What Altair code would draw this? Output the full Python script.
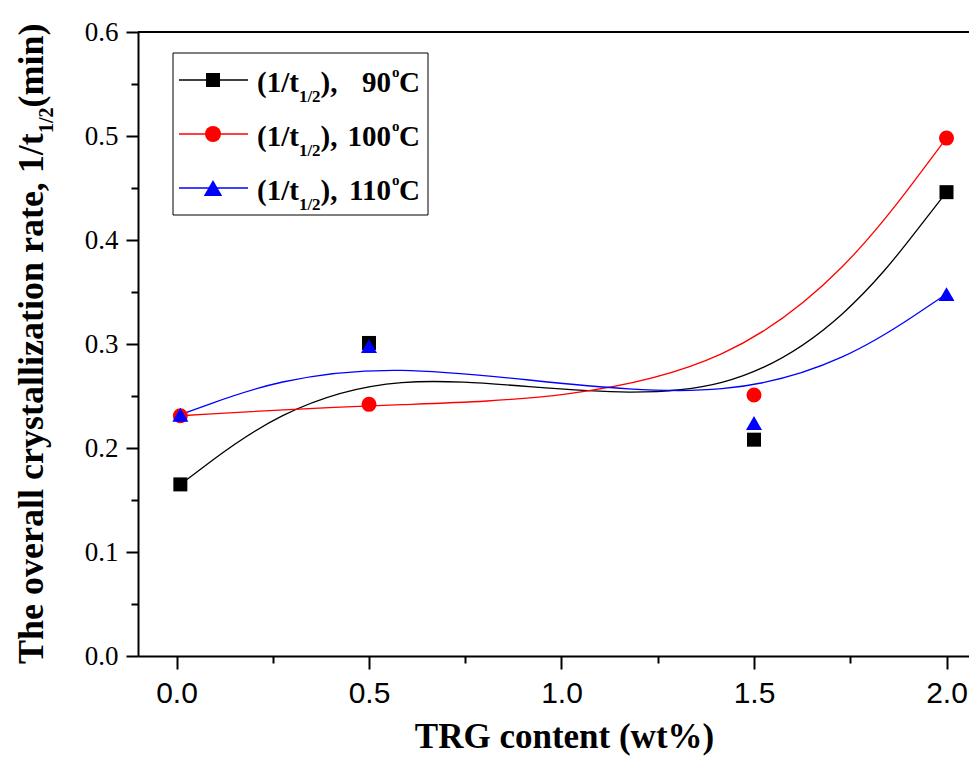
import altair as alt
import pandas as pd

# ---- data ----
trg = [0.01, 0.5, 1.5, 2.0]
rate_90 = [0.165, 0.301, 0.208, 0.446]
rate_100 = [0.231, 0.242, 0.251, 0.498]
rate_110 = [0.232, 0.298, 0.224, 0.348]

series_names = ["90", "100", "110"]
series_colors = ["#000000", "#ff0000", "#0000ff"]
series_shapes = ["square", "circle", "triangle-up"]
series_sizes = [196, 256, 340]

x_ticks = [0, 0.25, 0.5, 0.75, 1.0, 1.25, 1.5, 1.75, 2.0]
y_ticks = [round(i * 0.05, 2) for i in range(13)]

rows = []
for name, vals in zip(series_names, [rate_90, rate_100, rate_110]):
    for xv, yv in zip(trg, vals):
        rows.append({"series": name, "trg": xv, "rate": yv})
df = pd.DataFrame(rows)

W, H = 831, 624
SERIF = "Liberation Serif, Times New Roman, serif"
NARROW = "Liberation Sans Narrow, Arial Narrow, Liberation Sans, Arial, sans-serif"

xscale = alt.Scale(domain=[-0.1, -0.1 + W / 385.0], nice=False, zero=False)
yscale = alt.Scale(domain=[0, 0.6], nice=False, zero=False)
cscale = alt.Scale(domain=series_names, range=series_colors)

x_axis = alt.Axis(
    values=x_ticks,
    labelExpr="round(datum.value*100) % 50 == 0 ? format(datum.value, '.1f') : ''",
    labelFont=NARROW, labelFontSize=30, labelColor="black", labelPadding=9,
    labelOverlap=False, labelFlush=False,
    tickSize={"condition": {"test": "round(datum.value*100) % 50 == 0", "value": 13}, "value": 7},
    tickWidth=2, tickColor="black", domainWidth=2, domainColor="black", grid=False,
    title="TRG content (wt%)", titleFont=SERIF, titleFontSize=35, titleFontWeight="bold",
    titleColor="black", titleX=426, titleY=91, titleAlign="center", titleBaseline="alphabetic",
)
y_axis = alt.Axis(
    values=y_ticks,
    labelExpr="round(datum.value*100) % 10 == 0 ? format(datum.value, '.1f') : ''",
    labelFont=SERIF, labelFontSize=27, labelFontWeight="normal", labelColor="black", labelPadding=8,
    labelOverlap=False, labelFlush=False,
    tickSize={"condition": {"test": "round(datum.value*100) % 10 == 0", "value": 12}, "value": 7},
    tickWidth=2, tickColor="black", domainWidth=2, domainColor="black", grid=False,
    title=None,
)

base = alt.Chart(df)
lines = base.mark_line(interpolate="basis", strokeWidth=1.3).encode(
    x=alt.X("trg:Q", scale=xscale, axis=x_axis),
    y=alt.Y("rate:Q", scale=yscale, axis=y_axis),
    color=alt.Color("series:N", scale=cscale, legend=None),
    detail="series:N",
)
points = base.mark_point(filled=True, opacity=1).encode(
    x=alt.X("trg:Q", scale=xscale, axis=x_axis),
    y=alt.Y("rate:Q", scale=yscale, axis=y_axis),
    color=alt.Color("series:N", scale=cscale, legend=None),
    shape=alt.Shape("series:N", scale=alt.Scale(domain=series_names, range=series_shapes), legend=None),
    size=alt.Size("series:N", scale=alt.Scale(domain=series_names, range=series_sizes), legend=None),
)

one = pd.DataFrame({"k": [0]})
layers = [lines, points]

# top frame line
layers.append(alt.Chart(one).mark_rule(color="black", strokeWidth=2).encode(
    x=alt.value(0), x2=alt.value(W), y=alt.value(0)))

# legend box
layers.append(alt.Chart(one).mark_rect(fill="white", stroke="black", strokeWidth=1).encode(
    x=alt.value(35), x2=alt.value(290), y=alt.value(21), y2=alt.value(183)))

LFS = 29
for r, (name, col, shp, sz) in enumerate(zip(series_names, series_colors, series_shapes, series_sizes)):
    ly = 48 + 54 * r
    bl = ly + 11.7
    layers.append(alt.Chart(one).mark_rule(color=col, strokeWidth=1.3).encode(
        x=alt.value(41), x2=alt.value(110), y=alt.value(ly)))
    layers.append(alt.Chart(one).mark_point(shape=shp, filled=True, size=sz, color=col, opacity=1).encode(
        x=alt.value(75), y=alt.value(ly)))
    x_sub = 119 + 1.444 * LFS
    x_par = x_sub + 1.278 * 17
    pieces = [
        ("(1/t", 119, bl, LFS, "left"),
        ("1/2", x_sub, bl + 10, 17, "left"),
        ("),", x_par, bl, LFS, "left"),
        (name, 253, bl, LFS, "right"),
        ("o", 254, bl - 14.5, 15, "left"),
        ("C", 261, bl, LFS, "left"),
    ]
    for txt, px, py, fs, al in pieces:
        layers.append(alt.Chart(one).mark_text(
            text=txt, font=SERIF, fontWeight="bold", fontSize=fs, align=al,
            baseline="alphabetic", color="black").encode(x=alt.value(px), y=alt.value(py)))

# y axis title (rotated, with subscript)
main_fs = 36
main_len = 14.748 * main_fs
y0 = 632
layers.append(alt.Chart(one).mark_text(
    text="The overall crystallization rate, 1/t", font=SERIF, fontWeight="bold", fontSize=main_fs,
    angle=270, align="left", baseline="alphabetic", color="black").encode(
    x=alt.value(-95), y=alt.value(y0)))
layers.append(alt.Chart(one).mark_text(
    text="1/2", font=SERIF, fontWeight="bold", fontSize=20,
    angle=270, align="left", baseline="alphabetic", color="black").encode(
    x=alt.value(-85), y=alt.value(y0 - main_len)))
layers.append(alt.Chart(one).mark_text(
    text="(min)", font=SERIF, fontWeight="bold", fontSize=main_fs,
    angle=270, align="left", baseline="alphabetic", color="black").encode(
    x=alt.value(-95), y=alt.value(y0 - main_len - 1.278 * 20)))

chart = alt.layer(*layers).properties(
    width=W, height=H,
    autosize=alt.AutoSizeParams(type="none"),
    padding={"left": 130, "top": 24, "right": 0, "bottom": 100},
).configure_view(stroke=None).configure(background="white").configure_axisX(
    labelFont=NARROW, labelFontSize=30
).configure_axisY(
    labelFont=SERIF, labelFontSize=27
)

chart.save("out.html", embed_options={"renderer": "svg", "actions": False})
